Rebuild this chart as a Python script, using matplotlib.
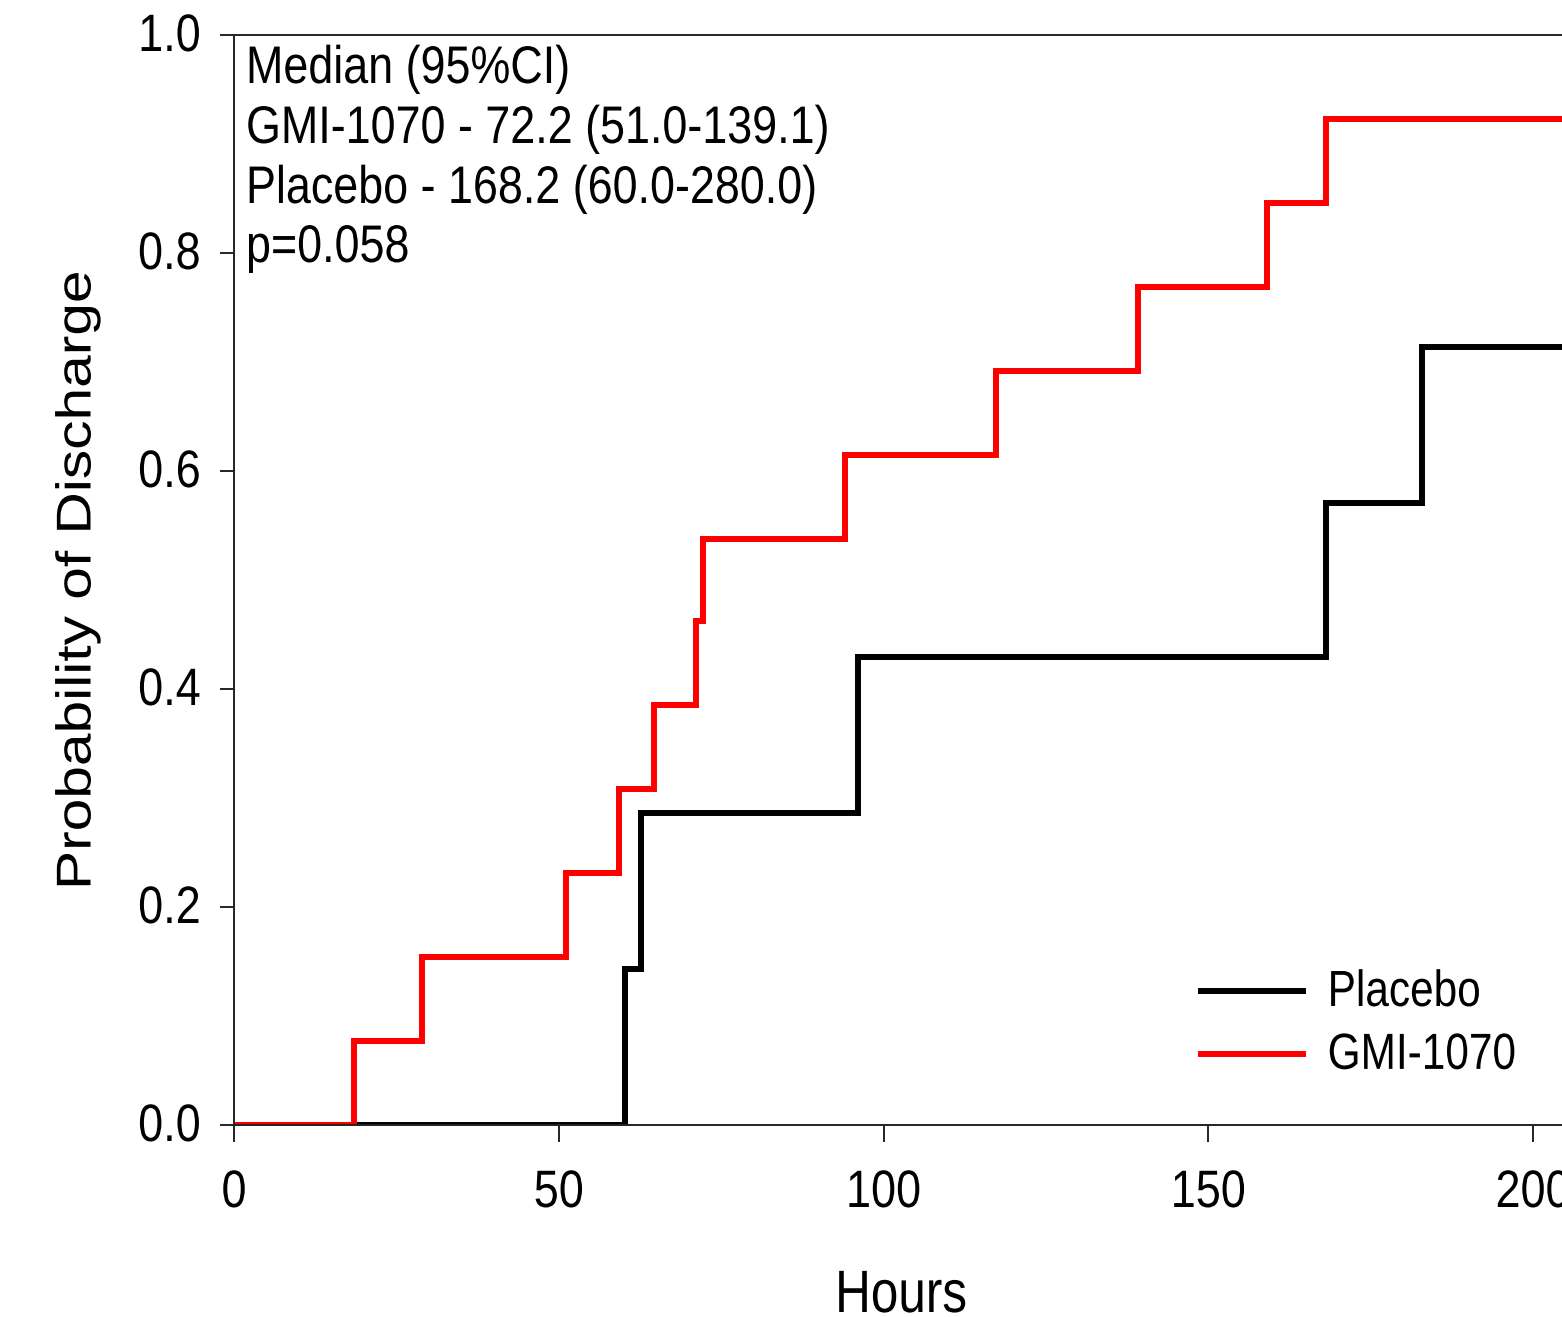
import matplotlib
matplotlib.use("Agg")
import matplotlib.pyplot as plt
from matplotlib.patheffects import AbstractPathEffect
from matplotlib.transforms import Affine2D

# ---------------- data ----------------
placebo_hours = [0, 60.2, 62.6, 96.1, 168.2, 182.9, 250]
placebo_prob = [0.0, 0.143, 0.286, 0.429, 0.571, 0.714, 0.714]

gmi_hours = [0, 18.5, 29.0, 51.1, 59.2, 64.7, 71.1, 72.2, 94.1, 117.3, 139.2, 159.0, 168.2, 250]
gmi_prob = [0.0, 0.077, 0.154, 0.231, 0.308, 0.385, 0.462, 0.538, 0.615, 0.692, 0.769, 0.846, 0.923, 0.923]

series_labels = ["Placebo", "GMI-1070"]
x_ticks = [0, 50, 100, 150, 200]
y_ticks = [0.0, 0.2, 0.4, 0.6, 0.8, 1.0]
y_tick_labels = ["0.0", "0.2", "0.4", "0.6", "0.8", "1.0"]
annotation_lines = [
    "Median (95%CI)",
    "GMI-1070 - 72.2 (51.0-139.1)",
    "Placebo - 168.2 (60.0-280.0)",
    "p=0.058",
]
x_label = "Hours"
y_label = "Probability of Discharge"


# text in the reference is drawn slightly taller than wide
class Stretch(AbstractPathEffect):
    def __init__(self, sx=1.0, sy=1.0):
        super().__init__()
        self._sx, self._sy = sx, sy

    def draw_path(self, renderer, gc, tpath, affine, rgbFace=None):
        m = affine.get_matrix()
        x, y = m[0, 2], m[1, 2]
        extra = Affine2D().translate(-x, -y).scale(self._sx, self._sy).translate(x, y)
        renderer.draw_path(gc, tpath, affine + extra, rgbFace)


plt.rcParams["font.family"] = ["Liberation Sans", "DejaVu Sans"]

W, H = 1562, 1317
DPI = 100
fig = plt.figure(figsize=(W / DPI, H / DPI), dpi=DPI)

# axes geometry in pixels (the plot is cropped on the right in the reference)
x0_px, y0_px, ytop_px = 234, 1125, 35
px_per_unit = (1533 - 234) / 200.0
xmax = 250
right_px = x0_px + xmax * px_per_unit
ax_w_px = right_px - x0_px
ax_h_px = y0_px - ytop_px
ax = fig.add_axes([x0_px / W, (H - y0_px) / H, ax_w_px / W, ax_h_px / H])

ax.step(placebo_hours, placebo_prob, where="post", color="black", lw=4.3,
        solid_joinstyle="miter", label=series_labels[0])
ax.step(gmi_hours, gmi_prob, where="post", color="#ff0000", lw=4.3,
        solid_joinstyle="miter", label=series_labels[1])

ax.set_xlim(0, xmax)
ax.set_ylim(0, 1.0)
ax.set_xticks(x_ticks)
ax.set_xticklabels([str(t) for t in x_ticks])
ax.set_yticks(y_ticks)
ax.set_yticklabels(y_tick_labels)

for s in ["left", "top", "bottom"]:
    ax.spines[s].set_linewidth(1.4)
    ax.spines[s].set_color("#222222")
ax.spines["right"].set_visible(False)

ax.tick_params(axis="y", direction="out", length=10, width=1.4, pad=14,
               labelsize=32.4, color="#222222")
ax.tick_params(axis="x", direction="out", length=12, width=1.4, pad=24,
               labelsize=32.4, color="#222222")
tick_fx = [Stretch(1.0, 1.17)]
for lbl in ax.get_xticklabels() + ax.get_yticklabels():
    lbl.set_path_effects(tick_fx)

# x label
ax.set_xlabel(x_label, fontsize=35.6)
xl = ax.xaxis.label
xl.set_va("baseline")
ax.xaxis.set_label_coords((901 - x0_px) / ax_w_px, -(1312 - y0_px) / ax_h_px)
xl.set_path_effects([Stretch(1.0, 1.21)])

# y label (bottom end anchored so the vertical stretch grows upward)
ax.set_ylabel(y_label, fontsize=35.2)
yl = ax.yaxis.label
yl.set_rotation_mode("default")
yl.set_ha("center")
yl.set_va("bottom")
ax.yaxis.set_label_coords((78 - x0_px) / ax_w_px, (y0_px - 890) / ax_h_px)
yl.set_path_effects([Stretch(1.0, 1.2)])

# annotation block
baselines = [83, 143, 203, 262]
for line, b in zip(annotation_lines, baselines):
    fig.text(246 / W, 1 - b / H, line, ha="left", va="baseline",
             fontsize=32.3, path_effects=[Stretch(1.0, 1.18)])

leg = ax.legend(loc="upper left", bbox_to_anchor=(1201 / W, 1 - 975 / H),
                bbox_transform=fig.transFigure, frameon=False, fontsize=30.5,
                handlelength=2.4, handletextpad=0.59, labelspacing=0.54,
                borderpad=0, borderaxespad=0)
for t in leg.get_texts():
    t.set_path_effects([Stretch(1.0, 1.2)])

fig.savefig("out.png", dpi=DPI)
